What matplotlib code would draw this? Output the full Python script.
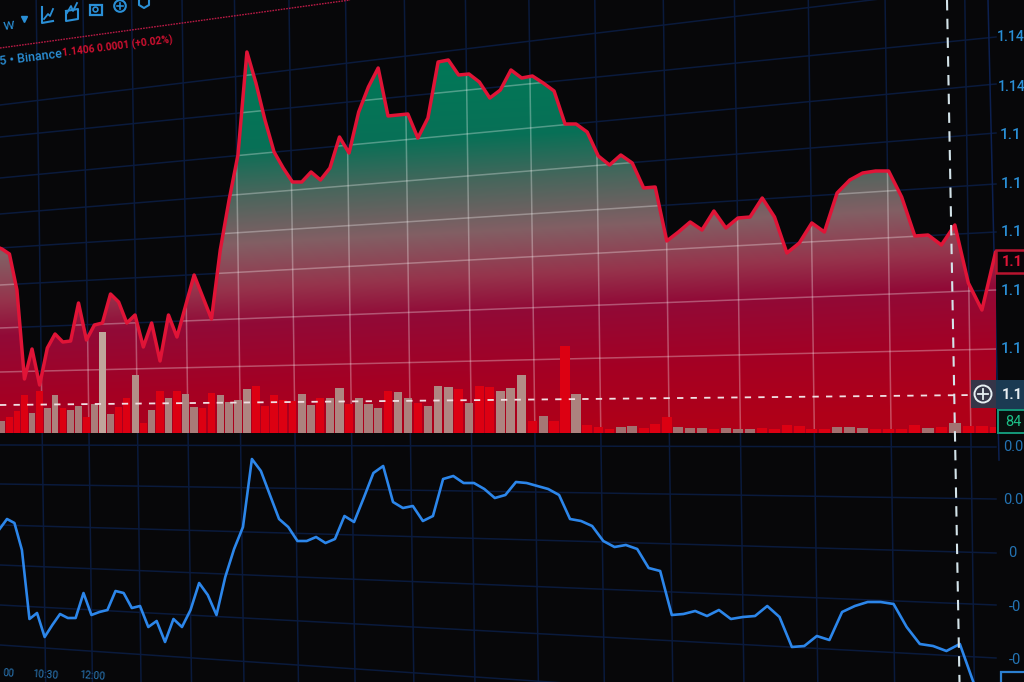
import numpy as np
import matplotlib
matplotlib.use("Agg")
import matplotlib.pyplot as plt
from matplotlib.patches import Rectangle, Circle

# One value per bar. close and oscillator start one bar
# before the first volume bar because the lines run off the left edge
close = [
    1.14076,
    1.14073, 1.14068, 1.14032, 1.13943, 1.13973, 1.13937, 1.13974, 1.13988, 1.13980, 1.13981,
    1.14019, 1.13982, 1.13997, 1.13999, 1.14028, 1.14020, 1.13999, 1.14007, 1.13975, 1.13999,
    1.13961, 1.14007, 1.13985, 1.14016, 1.14047, 1.14025, 1.14003, 1.14072, 1.14122, 1.14167,
    1.14270, 1.14239, 1.14202, 1.14170, 1.14154, 1.14140, 1.14140, 1.14150, 1.14142, 1.14154,
    1.14185, 1.14169, 1.14210, 1.14235, 1.14254, 1.14206, 1.14207, 1.14208, 1.14184, 1.14204,
    1.14260, 1.14262, 1.14247, 1.14248, 1.14240, 1.14224, 1.14232, 1.14252, 1.14244, 1.14246,
    1.14239, 1.14231, 1.14198, 1.14198, 1.14190, 1.14166, 1.14157, 1.14167, 1.14159, 1.14134,
    1.14135, 1.14081, 1.14090, 1.14100, 1.14092, 1.14111, 1.14094, 1.14104, 1.14105, 1.14124,
    1.14105, 1.14069, 1.14079, 1.14099, 1.14090, 1.14129, 1.14142, 1.14149, 1.14151, 1.14151,
    1.14125, 1.14086, 1.14087, 1.14077, 1.14097, 1.14039, 1.14012, 1.14070, 1.14077,
]
volume = [
    12, 16, 22, 38, 20, 42, 25, 38, 25, 23, 27, 16, 29, 101, 19, 26, 35, 58, 10, 23,
    42, 35, 42, 39, 26, 25, 40, 38, 31, 33, 44, 47, 27, 38, 33, 32, 39, 28, 35, 35,
    45, 29, 35, 29, 25, 42, 41, 35, 30, 27, 47, 46, 44, 30, 47, 46, 42, 45, 58, 12,
    17, 12, 87, 39, 8, 6, 4, 6, 7, 5, 9, 16, 6, 5, 5, 4, 5, 4, 4, 5,
    4, 8, 7, 4, 4, 6, 6, 5, 4, 4, 4, 8, 5, 6, 10, 7, 7, 6, 6,
]
# g = gray bar, r = red bar
volume_side = list(
    "grrrgrggrggrgggrrgrg"
    "rgrggrrggggrrrrrggrg"
    "grgggrggrgggrgrrgggr"
    "grrgrrrggrrrg"
    "ggrgggrrrrrrg"
    "ggrrrrgrgrrrg"
)
oscillator = [
    0.00024,
    0.00034, 0.00030, 0.00003, -0.00066, -0.00060, -0.00084, -0.00072, -0.00061, -0.00065, -0.00065,
    -0.00040, -0.00062, -0.00059, -0.00057, -0.00038, -0.00040, -0.00055, -0.00053, -0.00074, -0.00068,
    -0.00089, -0.00066, -0.00074, -0.00057, -0.00030, -0.00042, -0.00062, -0.00024, 0.00004, 0.00026,
    0.00094, 0.00082, 0.00058, 0.00034, 0.00026, 0.00012, 0.00012, 0.00016, 0.00010, 0.00014,
    0.00037, 0.00031, 0.00055, 0.00080, 0.00087, 0.00051, 0.00045, 0.00047, 0.00032, 0.00037,
    0.00074, 0.00077, 0.00070, 0.00070, 0.00064, 0.00055, 0.00058, 0.00071, 0.00070, 0.00067,
    0.00064, 0.00058, 0.00034, 0.00032, 0.00027, 0.00012, 0.00006, 0.00008, 0.00004, -0.00015,
    -0.00018, -0.00062, -0.00061, -0.00058, -0.00063, -0.00057, -0.00066, -0.00064, -0.00063, -0.00053,
    -0.00064, -0.00094, -0.00093, -0.00083, -0.00087, -0.00059, -0.00053, -0.00049, -0.00049, -0.00051,
    -0.00074, -0.00091, -0.00093, -0.00098, -0.00091, -0.00129, -0.00167,
]
# only what the photo shows of the cut off labels
price_ticks = ["1.14", "1.14", "1.1", "1.1", "1.1", "1.1", "1.1"]
osc_ticks = ["0.0", "0.0", "0", "-0", "-0"]
time_ticks = ["00", "10:30", "12:00"]

BG = "#070709"
BLUE = "#2a8fd6"
DIM_BLUE = "#2474b4"
CRIMSON = "#e01437"
GRID = "#0a1a3c"
W, H = 1024, 682
PANE_RIGHT = 996
PANE_BOTTOM = 433


# The photo is shot at an angle, bars get wider to the right
def bar_to_px(i):
    return 2 + 1167 * (np.exp(0.00635 * np.asarray(i, dtype=float)) - 1)


def px_to_bar(x):
    return np.log(np.maximum(1 + (np.asarray(x, dtype=float) - 2) / 1167, 1e-6)) / 0.00635


fig = plt.figure(figsize=(W / 100, H / 100), dpi=100, facecolor=BG)
plt.rcParams["font.family"] = ["Roboto", "DejaVu Sans"]

# background layer, everything in pixels
back = fig.add_axes([0, 0, 1, 1], zorder=0, facecolor=BG)
back.set_xlim(0, W)
back.set_ylim(H, 0)
back.set_axis_off()

# tilted grid lines, y at the left and at the pane edge
price_grid = [(105, -15), (137, 37), (178, 84), (214, 133), (248, 184), (285, 232), (328, 290), (372, 349)]
osc_grid = [(445, 447), (484, 499), (525, 553), (565, 605), (605, 658), (645, 712)]
vert_grid = range(5, 96, 6)

for y0, y1 in price_grid + osc_grid:
    back.plot([0, PANE_RIGHT], [y0, y1], color=GRID, lw=1.1)
for i in vert_grid:
    x = float(bar_to_px(i))
    back.plot([x - 3.5, x + 6], [0, 682], color=GRID, lw=1.1)
back.plot([988, 999], [0, 460], color="#0c2050", lw=1.1)

# price pane
ax = fig.add_axes([0, (H - PANE_BOTTOM) / H, PANE_RIGHT / W, PANE_BOTTOM / H], zorder=1)
ax.patch.set_alpha(0)
ax.set_xscale("function", functions=(bar_to_px, px_to_bar))
price_x = np.arange(len(close)) - 1
floor = 1.14322 - PANE_BOTTOM * 1e-5

area = ax.fill_between(price_x, close, floor, color="none", lw=0)
clip = area.get_paths()[0]

# gradient under the line, bands lean with the grid
stops_y = [50, 140, 185, 235, 280, 315, 380, 433]
stops_rgb = np.array([
    (0, 122, 88), (8, 112, 86), (72, 102, 92), (130, 95, 100),
    (150, 52, 76), (145, 10, 55), (165, 0, 35), (175, 0, 25),
]) / 255
gx, gy = np.meshgrid(np.arange(PANE_RIGHT), np.arange(PANE_BOTTOM))
lean = gy + 0.05 * (gx - 400)
grad = np.dstack([np.interp(lean, stops_y, stops_rgb[:, c]) for c in range(3)])
img = ax.imshow(grad, extent=(0, 1, 0, 1), transform=ax.transAxes, aspect="auto", zorder=1)
img.set_clip_path(clip, transform=ax.transData)

ax.set_xlim(px_to_bar(0), px_to_bar(PANE_RIGHT))
ax.set_ylim(floor, 1.14322)
ax.set_axis_off()

# same grid but light where it crosses the filled area
for y0, y1 in price_grid:
    ln, = ax.plot([0, PANE_RIGHT], [y0, y1], color="white", alpha=0.3, lw=1.1,
                  transform=back.transData, zorder=2)
    ln.set_clip_path(clip, transform=ax.transData)
for i in vert_grid:
    x = float(bar_to_px(i))
    ln, = ax.plot([x - 3.5, x + 6], [0, 682], color="white", alpha=0.3, lw=1.1,
                  transform=back.transData, zorder=2)
    ln.set_clip_path(clip, transform=ax.transData)

ax.plot(price_x, close, color=CRIMSON, lw=2.5, zorder=3, solid_joinstyle="round")

# volume bars, same x as price. Tall gray bars look paler towards the top
vol_ax = ax.twinx()
vol_ax.set_zorder(2)
vol_ax.patch.set_alpha(0)
gray_low = np.array([160, 108, 108]) / 255
gray_high = np.array([192, 165, 155]) / 255
vol_colors = []
for v, s in zip(volume, volume_side):
    if s == "g":
        vol_colors.append(gray_low + (gray_high - gray_low) * min(v / 100, 1))
    else:
        vol_colors.append("#dc0012")
vol_ax.bar(np.arange(len(volume)), volume, width=0.85, color=vol_colors, lw=0)
vol_ax.set_ylim(0, PANE_BOTTOM)
vol_ax.set_axis_off()

# oscillator pane, sits a few pixels further right because of the angle
osc_ax = fig.add_axes([0, 0, PANE_RIGHT / W, (H - 436) / H], zorder=1)
osc_ax.patch.set_alpha(0)
osc_ax.set_xscale("function", functions=(bar_to_px, px_to_bar))
osc_ax.plot(np.arange(len(oscillator)) - 1, oscillator, color="#2c86ea", lw=1.9)
osc_ax.set_xlim(px_to_bar(-5), px_to_bar(PANE_RIGHT - 5))
osc_ax.set_ylim(-0.00129, 0.00117)
osc_ax.set_axis_off()

# top layer: crosshair, labels, header
top = fig.add_axes([0, 0, 1, 1], zorder=3)
top.patch.set_alpha(0)
top.set_xlim(0, W)
top.set_ylim(H, 0)
top.set_axis_off()

top.plot([947, 959.5], [0, 682], color="#d4e4ea", lw=1.5, dashes=(5, 4))
top.plot([0, 975], [405, 395], color="#f0dfe3", lw=1.3, dashes=(3.5, 4))

# right side labels
for label, y, x in zip(price_ticks, [37, 87, 135, 184, 232, 291, 349], [997, 998, 1000, 1001, 1001, 1001, 1001]):
    top.text(x, y, label, color=BLUE, fontsize=10.2 if len(label) > 3 else 11,
             fontweight="medium", va="center", ha="left")
for label, y, x in zip(osc_ticks, [447, 500, 553, 607, 660], [1003, 1003, 1008, 1009, 1009]):
    top.text(x, y, label, color=DIM_BLUE, fontsize=10.5, va="center", ha="left")

top.add_patch(Rectangle((996, 250), 40, 23, fc="#0a0408", ec="#b8142f", lw=1.8))
top.text(1002, 262, "1.1", color="#e01437", fontsize=10.5, fontweight="bold", va="center")

top.add_patch(Rectangle((971, 380), 26, 28, fc="#2b3a4c", ec="none", alpha=0.92))
top.add_patch(Rectangle((996, 380), 30, 29, fc="#1b3a52", ec="none"))
top.add_patch(Circle((983, 394), 8.5, fc="none", ec="#e6eef2", lw=1.4))
top.plot([978, 988], [394, 394], color="#e6eef2", lw=1.3)
top.plot([983, 983], [389, 399], color="#e6eef2", lw=1.3)
top.text(1002, 395, "1.1", color="#e8eef2", fontsize=10.5, fontweight="bold", va="center")

top.add_patch(Rectangle((998, 410), 30, 23, fc="#08100e", ec="#15987a", lw=1.4))
top.text(1005, 422, "84", color="#1cc088", fontsize=10.5, va="center")
top.add_patch(Rectangle((1001, 672), 30, 20, fc=BG, ec="#2c7fd0", lw=1.6))

# header
top.plot([0, 350], [48, 0], color="#b81a45", lw=1.0, dashes=(1.2, 0.8))
top.text(0, 62, "5 \u2022 Binance", color=BLUE, fontsize=9, fontweight="medium", rotation=7,
         va="center", rotation_mode="anchor")
top.text(62, 53, "1.1406 0.0001 (+0.02%)", color="#d01030", fontsize=7.4, fontweight="bold",
         rotation=7, va="center", rotation_mode="anchor")

# toolbar icons
top.text(2, 25, "w", color=BLUE, fontsize=11, rotation=7, va="center")
top.plot([24], [19], marker="v", ms=4.5, color=BLUE)
top.plot([42, 42, 53], [7, 23, 21], color=BLUE, lw=1.5)
top.plot([44, 48, 50, 53], [19, 14, 16, 9], color=BLUE, lw=1.3)
top.plot([66, 66, 78, 78, 66], [11, 21, 19, 9, 11], color=BLUE, lw=1.5)
top.plot([67, 71, 73, 77], [13, 6, 11, 3], color=BLUE, lw=1.3)
top.add_patch(Rectangle((90, 5), 12, 10, fc="none", ec=BLUE, lw=1.6))
top.add_patch(Circle((95.5, 9.5), 2.4, fc="none", ec=BLUE, lw=1.2))
top.add_patch(Circle((120, 6), 5.8, fc="none", ec=BLUE, lw=1.5))
top.plot([117, 123], [6, 6], color=BLUE, lw=1.2)
top.plot([120, 120], [3, 9], color=BLUE, lw=1.2)
top.plot([139, 139, 144, 149, 149, 144, 139], [-2, 5, 8, 5, -2, -2, -2], color=BLUE, lw=1.5)

# time axis at the bottom, partly lost at the photo edge
for label, x, y in zip(time_ticks, [8, 45, 92], [673, 675, 676]):
    top.text(x, y, label, color="#2a78b8", fontsize=7.5, rotation=-4, ha="center", va="center")

fig.savefig("out.png", dpi=100, facecolor=BG)
